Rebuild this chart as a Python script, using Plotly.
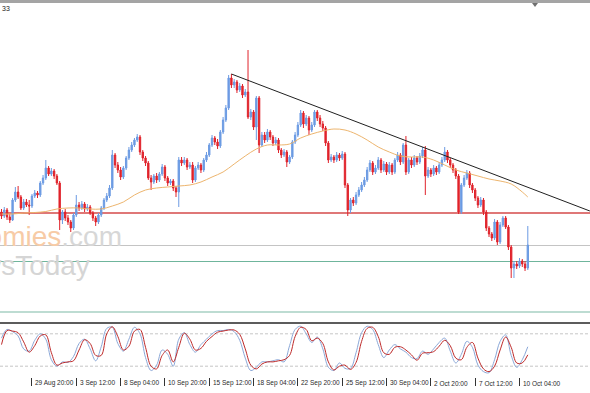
import plotly.graph_objects as go

W, H = 590, 393

# ---------------- data (H4 bars) ----------------
bar_open = [1.2188,1.2184,1.2190,1.2183,1.2180,1.2200,1.2208,1.2203,1.2192,1.2198,
            1.2195,1.2194,1.2204,1.2207,1.2205,1.2217,1.2222,1.2232,1.2226,1.2229,
            1.2224,1.2217,1.2180,1.2188,1.2182,1.2178,1.2172,1.2185,1.2195,1.2192,
            1.2196,1.2191,1.2193,1.2187,1.2182,1.2178,1.2185,1.2192,1.2200,1.2204,
            1.2212,1.2245,1.2235,1.2230,1.2223,1.2232,1.2242,1.2250,1.2255,1.2260,
            1.2263,1.2248,1.2242,1.2237,1.2222,1.2218,1.2224,1.2220,1.2226,1.2233,
            1.2222,1.2217,1.2219,1.2212,1.2208,1.2240,1.2237,1.2240,1.2233,1.2235,
            1.2220,1.2232,1.2235,1.2230,1.2240,1.2245,1.2255,1.2262,1.2258,1.2254,
            1.2268,1.2280,1.2292,1.2322,1.2315,1.2318,1.2310,1.2314,1.2305,1.2308,
            1.2283,1.2288,1.2273,1.2302,1.2255,1.2265,1.2260,1.2268,1.2263,1.2257,
            1.2260,1.2250,1.2245,1.2248,1.2238,1.2243,1.2258,1.2265,1.2275,1.2287,
            1.2276,1.2282,1.2270,1.2275,1.2288,1.2282,1.2276,1.2272,1.2257,1.2240,
            1.2243,1.2240,1.2245,1.2242,1.2246,1.2215,1.2190,1.2200,1.2197,1.2205,
            1.2210,1.2215,1.2220,1.2230,1.2237,1.2228,1.2232,1.2240,1.2230,1.2236,
            1.2228,1.2235,1.2228,1.2240,1.2245,1.2238,1.2255,1.2228,1.2240,1.2235,
            1.2242,1.2238,1.2244,1.2250,1.2224,1.2230,1.2226,1.2232,1.2228,1.2235,
            1.2240,1.2248,1.2240,1.2235,1.2230,1.2224,1.2188,1.2215,1.2222,1.2227,
            1.2215,1.2210,1.2202,1.2195,1.2200,1.2188,1.2172,1.2166,1.2162,1.2178,
            1.2158,1.2175,1.2182,1.2173,1.2153,1.2132,1.2136,1.2134,1.2139,1.2136,1.2132]

bar_close = [1.2184,1.2190,1.2183,1.2180,1.2200,1.2208,1.2203,1.2192,1.2198,1.2195,
             1.2194,1.2204,1.2207,1.2205,1.2217,1.2222,1.2232,1.2226,1.2229,1.2224,
             1.2217,1.2180,1.2188,1.2182,1.2178,1.2172,1.2185,1.2195,1.2192,1.2196,
             1.2191,1.2193,1.2187,1.2182,1.2178,1.2185,1.2192,1.2200,1.2204,1.2212,
             1.2245,1.2235,1.2230,1.2223,1.2232,1.2242,1.2250,1.2255,1.2260,1.2263,
             1.2248,1.2242,1.2237,1.2222,1.2218,1.2224,1.2220,1.2226,1.2233,1.2222,
             1.2217,1.2219,1.2212,1.2208,1.2240,1.2237,1.2240,1.2233,1.2235,1.2220,
             1.2232,1.2235,1.2230,1.2240,1.2245,1.2255,1.2262,1.2258,1.2254,1.2268,
             1.2280,1.2292,1.2322,1.2315,1.2318,1.2310,1.2314,1.2305,1.2308,1.2283,
             1.2288,1.2273,1.2302,1.2255,1.2265,1.2260,1.2268,1.2263,1.2257,1.2260,
             1.2250,1.2245,1.2248,1.2238,1.2243,1.2258,1.2265,1.2275,1.2287,1.2276,
             1.2282,1.2270,1.2275,1.2288,1.2282,1.2276,1.2272,1.2257,1.2240,1.2243,
             1.2240,1.2245,1.2242,1.2246,1.2215,1.2190,1.2200,1.2197,1.2205,1.2210,
             1.2215,1.2220,1.2230,1.2237,1.2228,1.2232,1.2240,1.2230,1.2236,1.2228,
             1.2235,1.2228,1.2240,1.2245,1.2238,1.2255,1.2228,1.2240,1.2235,1.2242,
             1.2238,1.2244,1.2250,1.2224,1.2230,1.2226,1.2232,1.2228,1.2235,1.2240,
             1.2248,1.2240,1.2235,1.2230,1.2224,1.2188,1.2215,1.2222,1.2227,1.2215,
             1.2210,1.2202,1.2195,1.2200,1.2188,1.2172,1.2166,1.2162,1.2178,1.2158,
             1.2175,1.2182,1.2173,1.2153,1.2132,1.2136,1.2134,1.2139,1.2136,1.2132,1.2155]

bar_high = [1.2191,1.2193,1.2192,1.2186,1.2202,1.2213,1.2214,1.2205,1.2201,1.2201,
            1.2200,1.2206,1.2210,1.2209,1.2219,1.2225,1.2240,1.2234,1.2232,1.2231,
            1.2226,1.2219,1.2190,1.2191,1.2185,1.2180,1.2187,1.2205,1.2198,1.2199,
            1.2198,1.2196,1.2195,1.2189,1.2184,1.2187,1.2194,1.2202,1.2207,1.2215,
            1.2250,1.2247,1.2238,1.2233,1.2234,1.2244,1.2253,1.2258,1.2262,1.2266,
            1.2265,1.2250,1.2244,1.2239,1.2225,1.2226,1.2227,1.2228,1.2236,1.2235,
            1.2224,1.2221,1.2221,1.2214,1.2243,1.2243,1.2243,1.2242,1.2238,1.2238,
            1.2234,1.2238,1.2237,1.2242,1.2248,1.2257,1.2265,1.2264,1.2261,1.2270,
            1.2283,1.2295,1.2325,1.2326,1.2321,1.2320,1.2317,1.2316,1.2311,1.2350,
            1.2291,1.2290,1.2304,1.2304,1.2268,1.2268,1.2271,1.2270,1.2265,1.2263,
            1.2262,1.2252,1.2251,1.2250,1.2245,1.2260,1.2268,1.2278,1.2290,1.2289,
            1.2285,1.2284,1.2278,1.2290,1.2290,1.2285,1.2279,1.2274,1.2259,1.2246,
            1.2245,1.2248,1.2247,1.2249,1.2248,1.2217,1.2202,1.2203,1.2208,1.2213,
            1.2218,1.2223,1.2233,1.2240,1.2239,1.2235,1.2243,1.2242,1.2239,1.2238,
            1.2238,1.2237,1.2242,1.2248,1.2247,1.2257,1.2264,1.2242,1.2243,1.2245,
            1.2244,1.2247,1.2253,1.2254,1.2233,1.2232,1.2235,1.2234,1.2238,1.2243,
            1.2253,1.2250,1.2242,1.2237,1.2232,1.2226,1.2217,1.2225,1.2230,1.2229,
            1.2217,1.2212,1.2204,1.2203,1.2202,1.2190,1.2174,1.2168,1.2181,1.2180,
            1.2178,1.2184,1.2184,1.2175,1.2155,1.2139,1.2139,1.2142,1.2141,1.2139,1.2174]

bar_low = [1.2181,1.2182,1.2180,1.2177,1.2179,1.2198,1.2201,1.2190,1.2190,1.2193,
           1.2185,1.2192,1.2202,1.2202,1.2203,1.2215,1.2220,1.2224,1.2224,1.2221,
           1.2215,1.2170,1.2176,1.2179,1.2175,1.2168,1.2170,1.2183,1.2189,1.2190,
           1.2188,1.2189,1.2185,1.2179,1.2174,1.2176,1.2183,1.2190,1.2198,1.2202,
           1.2210,1.2232,1.2227,1.2220,1.2221,1.2230,1.2240,1.2248,1.2253,1.2258,
           1.2245,1.2239,1.2234,1.2220,1.2210,1.2216,1.2217,1.2218,1.2224,1.2219,
           1.2214,1.2215,1.2209,1.2203,1.2193,1.2234,1.2235,1.2230,1.2231,1.2217,
           1.2218,1.2230,1.2227,1.2228,1.2238,1.2243,1.2253,1.2255,1.2251,1.2252,
           1.2266,1.2278,1.2290,1.2312,1.2312,1.2307,1.2308,1.2302,1.2303,1.2281,
           1.2280,1.2270,1.2260,1.2247,1.2253,1.2257,1.2258,1.2260,1.2254,1.2255,
           1.2247,1.2242,1.2243,1.2233,1.2236,1.2241,1.2256,1.2263,1.2273,1.2272,
           1.2274,1.2265,1.2268,1.2273,1.2279,1.2273,1.2269,1.2254,1.2237,1.2238,
           1.2237,1.2238,1.2239,1.2240,1.2212,1.2184,1.2187,1.2194,1.2195,1.2203,
           1.2208,1.2213,1.2218,1.2228,1.2225,1.2226,1.2230,1.2227,1.2228,1.2225,
           1.2226,1.2225,1.2226,1.2238,1.2235,1.2236,1.2225,1.2226,1.2232,1.2233,
           1.2235,1.2236,1.2242,1.2205,1.2222,1.2223,1.2224,1.2225,1.2226,1.2233,
           1.2238,1.2237,1.2232,1.2227,1.2221,1.2186,1.2186,1.2213,1.2220,1.2212,
           1.2207,1.2199,1.2192,1.2193,1.2185,1.2169,1.2163,1.2159,1.2160,1.2155,
           1.2156,1.2173,1.2171,1.2150,1.2122,1.2122,1.2131,1.2132,1.2133,1.2129,1.2130]

# moving average, read every 4 bars
ma_bars = [0,4,8,12,16,20,24,28,32,36,40,44,48,52,56,60,64,68,72,76,80,84,88,92,
           96,100,104,108,112,116,120,124,128,132,136,140,144,148,152,156,160,164,
           168,172,176,180,184,188,190]
ma_vals = [1.2186,1.2186,1.2187,1.21875,1.21885,1.2191,1.2192,1.2192,1.2191,1.2191,
           1.2194,1.2198,1.2205,1.2210,1.2212,1.2213,1.2214,1.2215,1.2218,1.2223,
           1.2228,1.2236,1.2244,1.2251,1.2255,1.2255,1.2256,1.2262,1.2266,1.2269,
           1.2271,1.2270,1.2266,1.2260,1.2253,1.2248,1.2244,1.2243,1.2243,1.2240,
           1.2235,1.2230,1.2227,1.2224,1.2221,1.2219,1.2216,1.2208,1.2203]

# stochastic oscillator, read every 2 bars
stoch_bars = list(range(0, 191, 2))
stoch_main = [72,88,84,76,52,48,68,80,70,32, 20,28,27,38,62,70,52,30,56,90,
              92,62,48,70,92,80,36,12,22,50, 42,20,70,82,60,46,60,70,80,86,
              86,88,84,68,35,12,18,28,28,30, 32,28,58,88,94,80,64,74,52,18,
              12,26,16,16,45,82,94,88,60,36, 50,60,52,46,36,34,48,42,52,64,
              72,48,26,42,66,55,22,10,8,32, 66,78,40,18,32,56]
stoch_signal = [60,86,85,82,65,46,58,76,78,45, 22,26,28,30,50,69,62,40,40,80,
                93,75,50,57,85,88,55,20,15,40, 50,28,55,81,70,50,53,66,75,83,
                85,87,87,79,52,22,15,24,28,28, 30,32,40,75,92,88,67,72,62,28,
                13,20,22,14,27,66,90,92,75,45, 42,55,56,50,41,31,44,45,47,57,
                68,58,35,32,55,64,35,15,10,20, 50,74,55,26,26,41]
stoch_levels = [80, 20]

# horizontal levels and trend line
level_red = 1.2187
level_grey = 1.21545
level_teal = 1.21385
level_teal_low = 1.2088
trend_bars = [83, 212.4]
trend_prices = [1.2326, 1.2189]

tick_bars = [-5, 11, 27, 43, 59, 75, 91, 107, 123, 139, 155, 171, 187]
tick_text = ["27 Aug 04:00", "29 Aug 20:00", "3 Sep 12:00", "8 Sep 04:00",
             "10 Sep 20:00", "15 Sep 12:00", "18 Sep 04:00", "22 Sep 20:00",
             "25 Sep 12:00", "30 Sep 04:00", "2 Oct 20:00", "7 Oct 12:00",
             "10 Oct 04:00"]

# ---------------- styling ----------------
BLUE = "#6C9BE3"
RED = "#E0232B"
MA_COL = "#EDB56E"
ST_BLUE = "#8BA8D8"
ST_RED = "#BE2A2A"
FONT = "Liberation Sans"

n = len(bar_open)
bars = list(range(n))

def py(px):
    return 1 - px / H

# x range: pixel 0 -> bar -0.54, pixel 590 -> bar 212.45
x_range = [-0.54, 212.45]

fig = go.Figure()

# watermark (drawn first, behind candles)
fig.add_trace(go.Scatter(
    x=[43.5], y=[1.2161], mode="text",
    text=['<span style="color:#F7CBA6">economies</span><span style="color:#D7D7D7">.com</span>'],
    textposition="middle left", textfont=dict(family=FONT, size=28),
    hoverinfo="skip", showlegend=False, xaxis="x", yaxis="y"))
fig.add_trace(go.Scatter(
    x=[31.9], y=[1.2132], mode="text", text=["NewsToday"],
    textposition="middle left", textfont=dict(family=FONT, size=28, color="#D5D5D5"),
    hoverinfo="skip", showlegend=False, xaxis="x", yaxis="y"))

fig.add_trace(go.Candlestick(
    x=bars, open=bar_open, high=bar_high, low=bar_low, close=bar_close,
    increasing=dict(line=dict(color=BLUE, width=1), fillcolor=BLUE),
    decreasing=dict(line=dict(color=RED, width=1), fillcolor=RED),
    whiskerwidth=0, showlegend=False, hoverinfo="skip", xaxis="x", yaxis="y"))

fig.add_trace(go.Scatter(
    x=ma_bars, y=ma_vals, mode="lines", line=dict(color=MA_COL, width=1, shape="spline"),
    showlegend=False, hoverinfo="skip", xaxis="x", yaxis="y"))

fig.add_trace(go.Scatter(
    x=trend_bars, y=trend_prices, mode="lines", line=dict(color="#202020", width=1),
    showlegend=False, hoverinfo="skip", xaxis="x", yaxis="y"))

fig.add_trace(go.Scatter(
    x=stoch_bars, y=stoch_main, mode="lines", line=dict(color=ST_BLUE, width=1, shape="spline"),
    showlegend=False, hoverinfo="skip", xaxis="x", yaxis="y2"))
fig.add_trace(go.Scatter(
    x=stoch_bars, y=stoch_signal, mode="lines", line=dict(color=ST_RED, width=1, shape="spline"),
    showlegend=False, hoverinfo="skip", xaxis="x", yaxis="y2"))

shapes = []
for lv, col, wd in [(level_red, "#D44A4A", 1.3), (level_grey, "#C4C4C4", 1),
                    (level_teal, "#6FB59C", 1.2), (level_teal_low, "#7DBAA6", 1.2)]:
    shapes.append(dict(type="line", xref="paper", x0=0, x1=1, yref="y", y0=lv, y1=lv,
                       line=dict(color=col, width=wd), layer="below"))
for lv in stoch_levels:
    shapes.append(dict(type="line", xref="paper", x0=0, x1=1, yref="y2", y0=lv, y1=lv,
                       line=dict(color="#C6C6C6", width=1, dash="3px,2px"), layer="below"))
# window frame pieces
shapes.append(dict(type="rect", xref="paper", yref="paper", x0=0, x1=1, y0=py(3), y1=1,
                   fillcolor="#A4A4A4", line=dict(width=0)))
shapes.append(dict(type="rect", xref="paper", yref="paper", x0=0, x1=1, y0=py(324), y1=py(322),
                   fillcolor="#5C5C5C", line=dict(width=0)))
shapes.append(dict(type="path", xref="paper", yref="paper",
                   path=f"M {532/W},{py(3)} L {538/W},{py(3)} L {535/W},{py(7)} Z",
                   fillcolor="#707070", line=dict(width=0)))

annotations = []
for tb, tt in zip(tick_bars, tick_text):
    annotations.append(dict(x=tb, xref="x", y=py(383), yref="paper", text=tt,
                            showarrow=False, xanchor="left", yanchor="middle", xshift=1.5,
                            font=dict(family=FONT, size=6.5, color="#2A2A2A")))
annotations.append(dict(x=0, xref="paper", y=py(8.5), yref="paper", text="33",
                        showarrow=False, xanchor="left", yanchor="middle",
                        font=dict(family=FONT, size=7, color="#222")))

fig.update_layout(
    width=W, height=H, margin=dict(l=0, r=0, t=0, b=0),
    paper_bgcolor="white", plot_bgcolor="white",
    xaxis=dict(range=x_range, domain=[0, 1], anchor="y2", showgrid=False, zeroline=False,
               rangeslider=dict(visible=False), tickvals=tick_bars, ticktext=[""] * len(tick_bars),
               ticks="outside", ticklen=8, tickcolor="#333", tickwidth=1, showline=False),
    yaxis=dict(domain=[py(321), py(3)], range=[1.2079, 1.2397], visible=False,
               showgrid=False, zeroline=False),
    yaxis2=dict(domain=[py(377), py(323)], range=[0, 100], visible=False,
                showgrid=False, zeroline=False),
    shapes=shapes, annotations=annotations, showlegend=False,
)

fig.write_html("out.html", config={"displayModeBar": False},
               post_script="document.body.style.margin='0px';document.body.style.overflow='hidden';")
